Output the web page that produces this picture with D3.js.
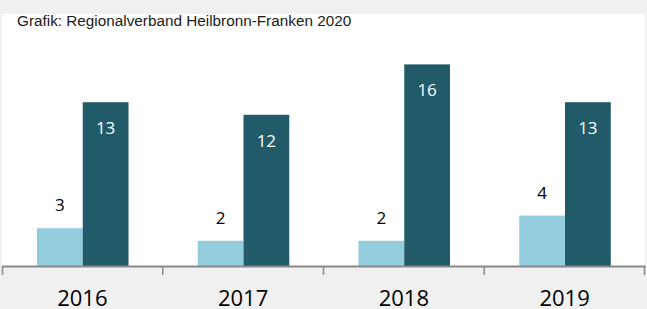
<!DOCTYPE html>
<html>
<head>
<meta charset="utf-8">
<script src="https://cdn.jsdelivr.net/npm/d3@7"></script>
<style>
  html, body { margin: 0; padding: 0; background: #f0f0f0; }
  svg { display: block; }
</style>
</head>
<body>
<div id="chart"></div>
<script>
var years = ['2016', '2017', '2018', '2019']
var series = ['hell', 'dunkel']
var valuesLight = [3, 2, 2, 4]
var valuesDark = [13, 12, 16, 13]
var title = 'Grafik: Regionalverband Heilbronn-Franken 2020'

var w = 647
var h = 309
var colors = { hell: '#93cddd', dunkel: '#215a69' }

var svg = d3.select('div#chart').append('svg')
  .attr('width', w)
  .attr('height', h)

svg.append('rect').attr('width', w).attr('height', h).attr('fill', '#f0f0f0')

// white plot panel
svg.append('rect')
  .attr('x', 2).attr('y', 14)
  .attr('width', 643).attr('height', 253)
  .attr('fill', '#ffffff')

var x = d3.scaleBand().domain(years).range([2, 645]).padding(0)
var xInner = d3.scaleBand().domain(series).range([35, 126.5]).padding(0)
var y = d3.scaleLinear().domain([0, 20]).range([266, 14])

var rows = years.map(function (yr, i) {
  return { year: yr, hell: valuesLight[i], dunkel: valuesDark[i] }
})

var groups = svg.selectAll('g.year').data(rows).enter().append('g')
  .attr('class', 'year')
  .attr('transform', function (d) { return 'translate(' + x(d.year) + ',0)' })

groups.selectAll('rect').data(function (d) {
  return series.map(function (s) { return { key: s, value: d[s] } })
}).enter().append('rect')
  .attr('x', function (d) { return xInner(d.key) })
  .attr('width', xInner.bandwidth())
  .attr('y', function (d) { return y(d.value) })
  .attr('height', function (d) { return y(0) - y(d.value) })
  .attr('fill', function (d) { return colors[d.key] })

groups.selectAll('text.lbl').data(function (d) {
  return series.map(function (s) { return { key: s, value: d[s] } })
}).enter().append('text')
  .attr('class', 'lbl')
  .attr('x', function (d) { return xInner(d.key) + xInner.bandwidth() / 2 })
  .attr('y', function (d) { return d.key === 'hell' ? y(d.value) - 17 : y(d.value) + 32 })
  .attr('text-anchor', 'middle')
  .attr('font-family', 'Open Sans, sans-serif')
  .attr('font-size', 17)
  .attr('fill', function (d) { return d.key === 'hell' ? '#000000' : '#ffffff' })
  .text(function (d) { return d.value })

// x axis
var axis = svg.append('g')
  .attr('transform', 'translate(0,266)')
  .call(d3.axisBottom(x).tickSize(0).tickFormat(''))
axis.select('.domain').attr('stroke', '#888888').attr('stroke-width', 2)

var bounds = years.map(function (yr) { return x(yr) }).concat([x.range()[1]])
svg.selectAll('line.tick').data(bounds).enter().append('line')
  .attr('class', 'tick')
  .attr('x1', function (d) { return Math.min(Math.max(d, 2.5), 644.5) })
  .attr('x2', function (d) { return Math.min(Math.max(d, 2.5), 644.5) })
  .attr('y1', 266).attr('y2', 275)
  .attr('stroke', '#888888').attr('stroke-width', 1.5)

svg.selectAll('text.year').data(years).enter().append('text')
  .attr('class', 'year')
  .attr('x', function (d) { return x(d) + x.bandwidth() / 2 })
  .attr('y', 306)
  .attr('text-anchor', 'middle')
  .attr('font-family', 'Open Sans, sans-serif')
  .attr('font-size', 22)
  .attr('fill', '#000000')
  .text(function (d) { return d })

svg.append('text')
  .attr('x', 17).attr('y', 26)
  .attr('font-family', 'Liberation Sans, Arial, sans-serif')
  .attr('font-size', 15.3)
  .attr('fill', '#1a1a1a')
  .text(title)
</script>
</body>
</html>
